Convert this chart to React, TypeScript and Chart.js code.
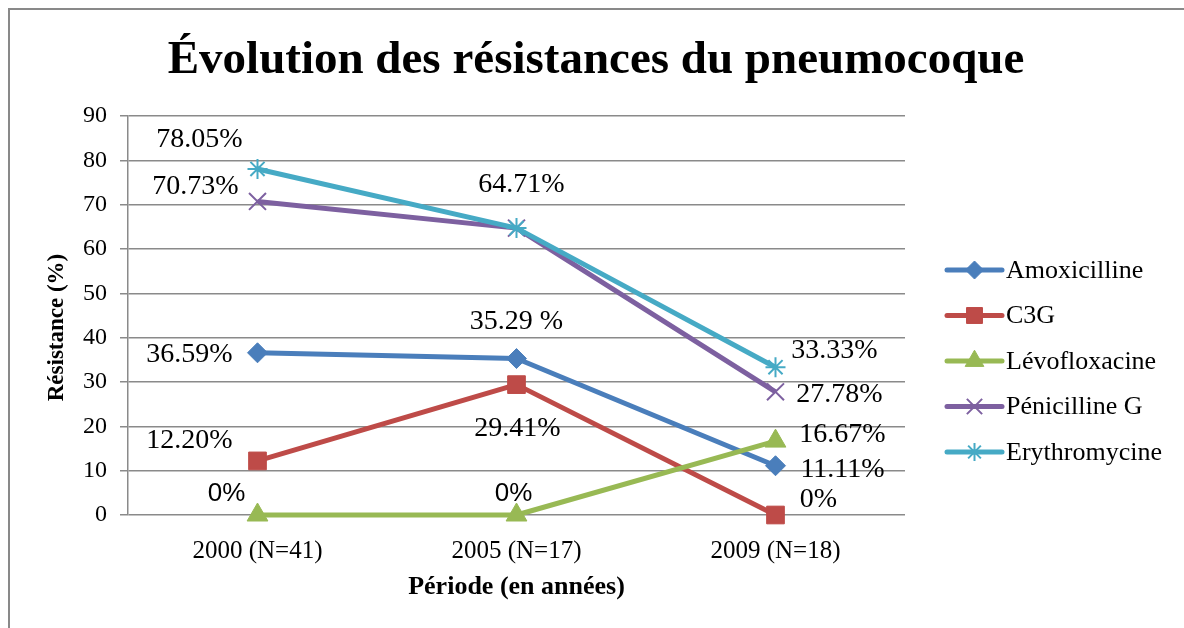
import React, { useEffect, useRef } from "react";
import { Chart, registerables } from "chart.js";
import { drawPoint } from "chart.js/helpers";

Chart.register(...registerables);

const titleText = "Évolution des résistances du pneumocoque";
const yAxisTitle = "Résistance (%)";
const xAxisTitle = "Période (en années)";
const categories = ["2000 (N=41)", "2005 (N=17)", "2009 (N=18)"];
const seriesNames = ["Amoxicilline", "C3G", "Lévofloxacine", "Pénicilline G", "Erythromycine"];
const amoxicilline = [36.59, 35.29, 11.11];
const c3g = [12.2, 29.41, 0];
const levofloxacine = [0, 0, 16.67];
const penicillineG = [70.73, 64.71, 27.78];
const erythromycine = [78.05, 64.71, 33.33];
const amoxLabels = ["36.59%", "35.29 %", "11.11%"];
const c3gLabels = ["12.20%", "29.41%", "0%"];
const levoLabels = ["0%", "0%", "16.67%"];
const penLabels = ["70.73%", "", "27.78%"];
const eryLabels = ["78.05%", "64.71%", "33.33%"];
const yTicks = [0, 10, 20, 30, 40, 50, 60, 70, 80, 90];

const colors = ["#4A7EBB", "#BE4B48", "#98B954", "#7D60A0", "#46AAC5"];
const pointStyles = ["rectRot", "rect", "triangle", "crossRot", "star"];
const pointRadii = [10, 12.5, 12, 12, 10];
// label offsets (dx, dy) relative to point, per series per category
const labelOffsets = [
  [[-68, 2], [0, -37], [67, 4]],
  [[-68, -20], [1, 44], [43, -15]],
  [[-31, -21], [-3, -21], [67, -6]],
  [[-62, -15], [0, 0], [64, 3]],
  [[-58, -29], [5, -43], [59, -17]],
];
const labelFonts = [
  ["serif", "serif", "serif"],
  ["serif", "serif", "serif"],
  ["sans", "sans", "serif"],
  ["serif", "serif", "serif"],
  ["serif", "serif", "serif"],
];

const SERIF = "'Liberation Serif', 'Times New Roman', serif";
const SANS = "'Liberation Sans', Arial, sans-serif";

export default function App() {
  const ref = useRef<HTMLCanvasElement | null>(null);
  useEffect(() => {
    const canvas = ref.current;
    if (!canvas) return;
    const values = [amoxicilline, c3g, levofloxacine, penicillineG, erythromycine];
    const labels = [amoxLabels, c3gLabels, levoLabels, penLabels, eryLabels];

    const labelPlugin = {
      id: "valueLabels",
      afterDatasetsDraw(chart: any) {
        const ctx = chart.ctx;
        ctx.save();
        ctx.fillStyle = "#000";
        ctx.textAlign = "center";
        ctx.textBaseline = "middle";
        chart.data.datasets.forEach((ds: any, i: number) => {
          const meta = chart.getDatasetMeta(i);
          meta.data.forEach((pt: any, j: number) => {
            const txt = labels[i][j];
            if (!txt) return;
            const [dx, dy] = labelOffsets[i][j];
            ctx.font = labelFonts[i][j] === "sans" ? "26px " + SANS : "28px " + SERIF;
            ctx.fillText(txt, pt.x + dx, pt.y + dy);
          });
        });
        ctx.restore();
      },
    };

    const titleLegendPlugin = {
      id: "titleAndLegend",
      afterDraw(chart: any) {
        const ctx = chart.ctx;
        ctx.save();
        ctx.fillStyle = "#000";
        ctx.font = "bold 47px " + SERIF;
        ctx.textAlign = "center";
        ctx.textBaseline = "alphabetic";
        ctx.fillText(titleText, chart.width / 2 - 1, 63);

        // y axis title
        ctx.save();
        ctx.translate(47.5, (chart.chartArea.top + chart.chartArea.bottom) / 2 + 12);
        ctx.rotate(-Math.PI / 2);
        ctx.font = "bold 23px " + SERIF;
        ctx.textAlign = "center";
        ctx.textBaseline = "middle";
        ctx.fillText(yAxisTitle, 0, 0);
        ctx.restore();

        const x0 = 937;
        const x1 = 992;
        const yStart = 260;
        const step = 45.5;
        seriesNames.forEach((name, i) => {
          const y = yStart + i * step;
          ctx.strokeStyle = colors[i];
          ctx.lineWidth = 5;
          ctx.lineCap = "round";
          ctx.beginPath();
          ctx.moveTo(x0, y);
          ctx.lineTo(x1, y);
          ctx.stroke();
          ctx.lineCap = "butt";
          ctx.fillStyle = colors[i];
          ctx.strokeStyle = colors[i];
          const filled = i < 3;
          ctx.lineWidth = filled ? 1 : 2;
          drawPoint(ctx, { pointStyle: pointStyles[i] as any, radius: pointRadii[i] * 0.9, borderWidth: filled ? 1 : 2, rotation: 0 } as any, (x0 + x1) / 2, y);
          ctx.fillStyle = "#000";
          ctx.font = "26px " + SERIF;
          ctx.textAlign = "left";
          ctx.textBaseline = "middle";
          ctx.fillText(name, 996, y + 1);
        });
        ctx.restore();
      },
    };

    const chart = new Chart(canvas, {
      type: "line",
      data: {
        labels: categories,
        datasets: values.map((v, i) => ({
          label: seriesNames[i],
          data: v,
          borderColor: colors[i],
          backgroundColor: colors[i],
          borderWidth: 5,
          borderJoinStyle: "round",
          pointStyle: pointStyles[i] as any,
          pointRadius: pointRadii[i],
          pointBorderWidth: i < 3 ? 1 : 2,
          pointBackgroundColor: colors[i],
          pointBorderColor: colors[i],
          tension: 0,
          clip: false,
          order: 5 - i,
        })),
      },
      options: {
        animation: false,
        responsive: false,
        events: [],
        layout: { padding: { left: 0, right: 279, top: 106, bottom: 0 } },
        plugins: {
          legend: { display: false },
          tooltip: { enabled: false },
          title: { display: false },
        },
        scales: {
          x: {
            type: "category",
            offset: true,
            grid: { display: false, drawTicks: false },
            border: { display: false },
            ticks: {
              color: "#000",
              font: { family: SERIF, size: 25 },
              padding: 21,
              maxRotation: 0,
            },
            title: {
              display: true,
              text: xAxisTitle,
              color: "#000",
              font: { family: SERIF, size: 26, weight: "bold", lineHeight: 1.2 },
              padding: { top: 0, bottom: 25 },
            },
            afterFit: (s: any) => {
              s.height = 113;
            },
          },
          y: {
            min: 0,
            max: 90,
            afterBuildTicks: (s: any) => {
              s.ticks = yTicks.map((v) => ({ value: v }));
            },
            grid: { color: "#8a8a8a", lineWidth: 1.5, tickLength: 8, drawTicks: true },
            border: { display: true, color: "#8a8a8a", width: 1.5 },
            ticks: {
              color: "#000",
              font: { family: SERIF, size: 24 },
              padding: 13,
            },
            title: { display: false },
            afterFit: (s: any) => {
              s.width = 118;
            },
          },
        },
      },
      plugins: [labelPlugin, titleLegendPlugin],
    } as any);
    return () => chart.destroy();
  }, []);

  return (
    <div
      style={{
        position: "absolute",
        left: 8,
        top: 8,
        width: 1176,
        height: 620,
        boxSizing: "border-box",
        borderTop: "2px solid #898989",
        borderLeft: "2px solid #898989",
        background: "#fff",
      }}
    >
      <canvas ref={ref} width={1174} height={618} style={{ display: "block", width: 1174, height: 618 }} />
    </div>
  );
}
